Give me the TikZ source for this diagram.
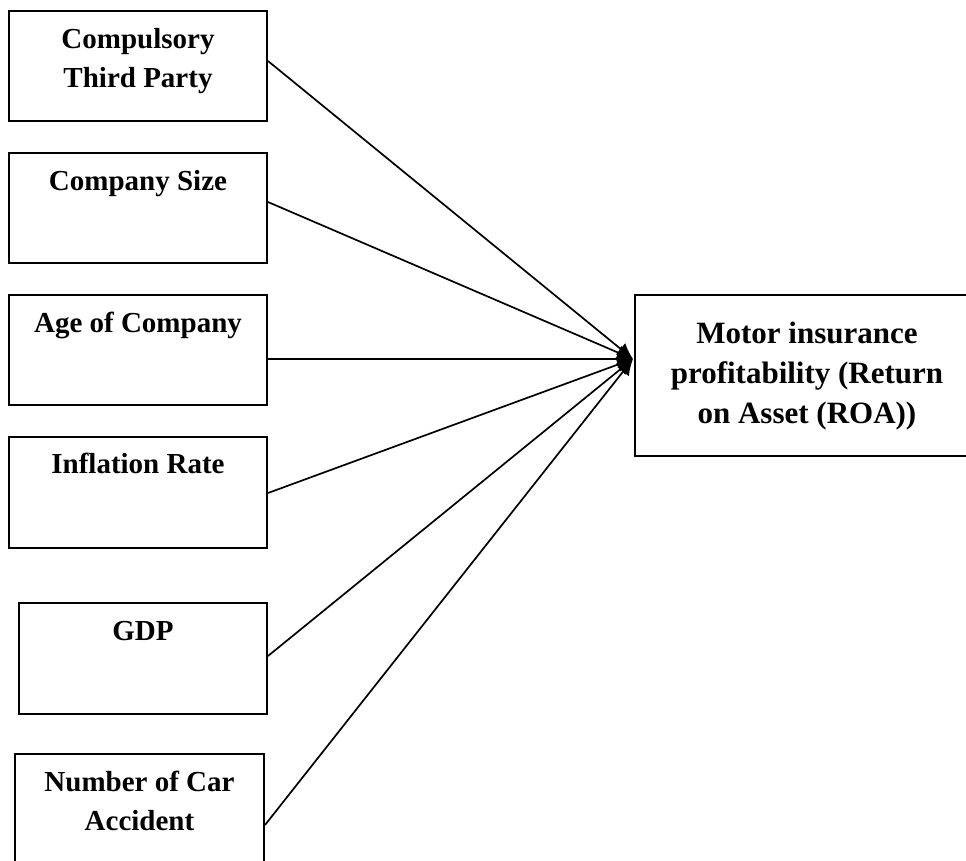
\documentclass[tikz,border=0pt]{standalone}
\usepackage{fontspec}
\setmainfont{Liberation Serif}
\usetikzlibrary{arrows.meta,calc}
\tikzset{
  box/.style={draw=black, line width=2pt, inner sep=0pt, anchor=north west},
  lbl/.style={font=\bfseries\fontsize{29}{39}\selectfont, align=center, inner sep=0pt, anchor=base},
  rlbl/.style={font=\bfseries\fontsize{31}{40}\selectfont, align=center, inner sep=0pt, anchor=base},
  conn/.style={line width=1.7pt, -{Latex[length=16pt,width=15pt]}}
}
\begin{document}
\begin{tikzpicture}[x=1pt,y=-1pt]
\useasboundingbox (0,0) rectangle (966,860);
\begin{scope}
\clip (0,0) rectangle (966,860);
\node[box, minimum width=258pt, minimum height=110pt] (b1) at (8,10) {};
\node[box, minimum width=258pt, minimum height=110pt] (b2) at (8,152) {};
\node[box, minimum width=258pt, minimum height=110pt] (b3) at (8,294) {};
\node[box, minimum width=258pt, minimum height=111pt] (b4) at (8,436) {};
\node[box, minimum width=248pt, minimum height=111pt] (b5) at (18,602) {};
\node[box, minimum width=249pt, minimum height=140pt] (b6) at (14,753) {};
\node[box, minimum width=346pt, minimum height=161pt] (r) at (634,294) {};

\node[lbl] (t1) at ($(b1.north)+(0,77)$) {Compulsory\\Third Party};
\node[lbl] (t2) at ($(b2.north)+(0,38)$) {Company Size};
\node[lbl] (t3) at ($(b3.north)+(0,38)$) {Age of Company};
\node[lbl] (t4) at ($(b4.north)+(0,37)$) {Inflation Rate};
\node[lbl] (t5) at ($(b5.north)+(0,38)$) {GDP};
\node[lbl] (t6) at ($(b6.north)+(0,77)$) {Number of Car\\Accident};
\node[rlbl] (tr) at (807,423) {Motor insurance\\profitability (Return\\on Asset (ROA))};

\coordinate (tip) at ($(r.north west)+(-1,65)$);
\draw[conn] ($(b1.north east)+(0,51)$) -- (tip);
\draw[conn] ($(b2.north east)+(0,50)$) -- (tip);
\draw[conn] ($(b3.north east)+(0,65)$) -- (tip);
\draw[conn] ($(b4.north east)+(0,57)$) -- (tip);
\draw[conn] ($(b5.north east)+(0,54)$) -- (tip);
\draw[conn] ($(b6.north east)+(0,72)$) -- (tip);
\end{scope}
\end{tikzpicture}
\end{document}
